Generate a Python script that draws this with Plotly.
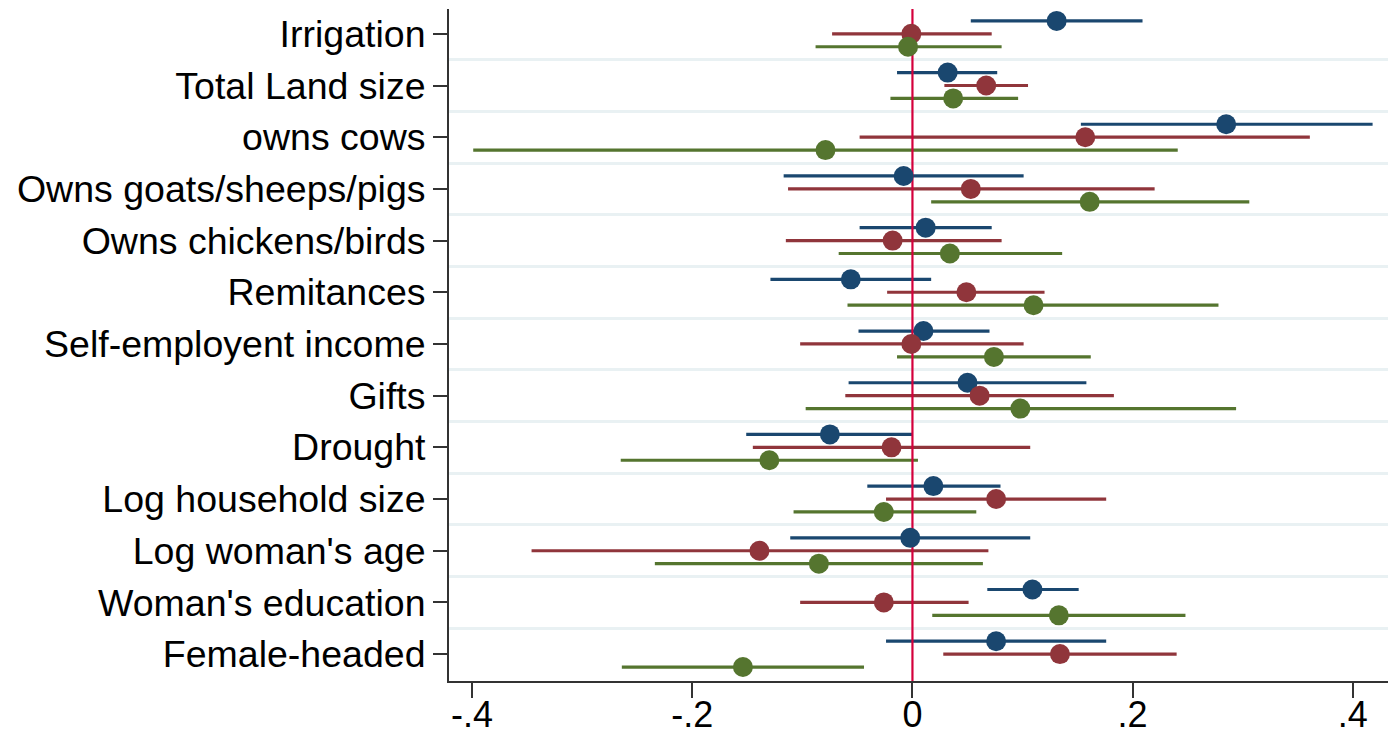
import plotly.graph_objects as go

categories = ["Irrigation", "Total Land size", "owns cows", "Owns goats/sheeps/pigs",
              "Owns chickens/birds", "Remitances", "Self-employent income", "Gifts",
              "Drought", "Log household size", "Log woman's age", "Woman's education",
              "Female-headed"]

# series 1 (blue)
blue_est = [0.131, 0.032, 0.285, -0.008, 0.012, -0.056, 0.010, 0.050, -0.075, 0.019, -0.002, 0.109, 0.076]
blue_lo  = [0.053, -0.014, 0.153, -0.117, -0.048, -0.129, -0.049, -0.058, -0.151, -0.041, -0.111, 0.068, -0.024]
blue_hi  = [0.209, 0.077, 0.418, 0.101, 0.072, 0.017, 0.070, 0.158, 0.000, 0.080, 0.107, 0.151, 0.176]

# series 2 (red)
red_est = [-0.001, 0.067, 0.157, 0.053, -0.018, 0.049, -0.001, 0.061, -0.019, 0.076, -0.139, -0.026, 0.134]
red_lo  = [-0.073, 0.029, -0.048, -0.113, -0.115, -0.023, -0.102, -0.061, -0.145, -0.024, -0.346, -0.102, 0.028]
red_hi  = [0.072, 0.105, 0.361, 0.220, 0.081, 0.120, 0.101, 0.183, 0.107, 0.176, 0.069, 0.051, 0.240]

# series 3 (green)
green_est = [-0.004, 0.037, -0.079, 0.161, 0.034, 0.110, 0.074, 0.098, -0.130, -0.026, -0.085, 0.133, -0.154]
green_lo  = [-0.088, -0.020, -0.399, 0.017, -0.067, -0.059, -0.014, -0.097, -0.265, -0.108, -0.234, 0.018, -0.264]
green_hi  = [0.081, 0.096, 0.241, 0.306, 0.136, 0.278, 0.162, 0.294, 0.005, 0.058, 0.064, 0.248, -0.044]

xtick_vals = [-0.4, -0.2, 0, 0.2, 0.4]
xtick_text = ["-.4", "-.2", "0", ".2", ".4"]

series = [
    (blue_est, blue_lo, blue_hi, "#1a476f", -0.25),
    (red_est, red_lo, red_hi, "#90353b", 0.0),
    (green_est, green_lo, green_hi, "#55752f", 0.25),
]

n = len(categories)
fig = go.Figure()

# CI lines first
for est, lo, hi, col, off in series:
    ys = [i + off for i in range(n)]
    fig.add_trace(go.Scatter(
        x=est, y=ys, mode="markers",
        marker=dict(size=1, color="rgba(0,0,0,0)"),
        error_x=dict(type="data", symmetric=False,
                     array=[h - e for h, e in zip(hi, est)],
                     arrayminus=[e - l for e, l in zip(est, lo)],
                     color=col, thickness=3.2, width=0),
        showlegend=False, hoverinfo="skip"))

# zero reference line
fig.add_trace(go.Scatter(x=[0, 0], y=[-0.48, n - 0.48], mode="lines",
                         line=dict(color="#d4003c", width=2.2),
                         showlegend=False, hoverinfo="skip"))

# markers on top
for est, lo, hi, col, off in series:
    ys = [i + off for i in range(n)]
    fig.add_trace(go.Scatter(
        x=est, y=ys, mode="markers",
        marker=dict(size=20, color=col, line=dict(width=0)),
        showlegend=False))

font_family = "Liberation Sans, Arial, sans-serif"

fig.update_layout(
    width=1388, height=734,
    margin=dict(l=449, r=0, t=9, b=53),
    paper_bgcolor="white", plot_bgcolor="white",
    font=dict(family=font_family, size=38, color="black"),
    xaxis=dict(range=[-0.421, 0.432], tickmode="array",
               tickvals=xtick_vals, ticktext=xtick_text,
               showgrid=False, zeroline=False, automargin=False,
               showline=True, linecolor="#333333", linewidth=2,
               ticks="outside", ticklen=15, tickwidth=2, tickcolor="#333333",
               ticklabelstandoff=-14,
               tickfont=dict(size=36, family=font_family, color="black")),
    yaxis=dict(range=[n - 0.48, -0.48], tickmode="array",
               tickvals=list(range(n)), ticktext=categories,
               showgrid=False, zeroline=False, automargin=False,
               showline=True, linecolor="#333333", linewidth=2,
               ticks="outside", ticklen=14, tickwidth=2, tickcolor="#333333",
               tickfont=dict(size=37.5, family=font_family, color="black"),
               minor=dict(tickmode="array",
                          tickvals=[i + 0.5 for i in range(n - 1)],
                          showgrid=True, gridcolor="#e9f1f3", gridwidth=2.5,
                          ticks="")),
)

fig.write_html("out.html")
